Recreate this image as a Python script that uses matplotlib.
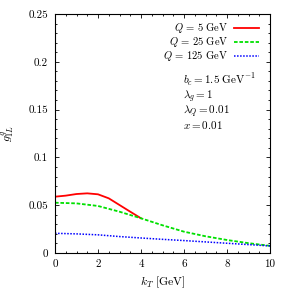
import matplotlib

matplotlib.use('Agg')

import matplotlib.pyplot as plt
import matplotlib.ticker as ticker

plt.rcParams['mathtext.fontset'] = 'cm'
plt.rcParams['font.family'] = 'serif'
plt.rcParams['font.serif'] = ['cmr10', 'DejaVu Serif']
plt.rcParams['axes.formatter.use_mathtext'] = True

# values
kt_q5 = [0, 0.5, 1, 1.5, 2, 2.5, 3, 3.5, 4]
g_q5 = [0.0589, 0.0600, 0.0617, 0.0624, 0.0614, 0.0572, 0.0502, 0.0432, 0.0363]

kt_full = [0, 1, 2, 3, 4, 5, 6, 7, 8, 9, 10]
g_q25 = [0.0526, 0.0519, 0.0492, 0.0432, 0.0363, 0.0290, 0.0223, 0.0175, 0.0136, 0.0103, 0.0075]
g_q125 = [0.0206, 0.0200, 0.0190, 0.0172, 0.0157, 0.0143, 0.0130, 0.0116, 0.0102, 0.0088, 0.0074]

series_labels = [r'$Q\, =\, 5\ \mathrm{GeV}$', r'$Q\, =\, 25\ \mathrm{GeV}$',
                 r'$Q\, =\, 125\ \mathrm{GeV}$']
params_text = [r'$b_c = 1.5\ \mathrm{GeV}^{-1}$', r'$\lambda_g = 1$',
               r'$\lambda_Q = 0.01$', r'$x = 0.01$']

fs = 8
fig = plt.figure(figsize=(2.91, 2.91), dpi=100)
ax = fig.add_axes([55 / 291, 1 - 253 / 291, 215 / 291, 239 / 291])

l1, = ax.plot(kt_q5, g_q5, color='#ff0000', lw=1.3, ls='-')
l2, = ax.plot(kt_full, g_q25, color='#00e000', lw=1.3, ls=(0, (2, 1)))
l3, = ax.plot(kt_full, g_q125, color='#0000ff', lw=1.1, ls=(0, (1, 1)))

ax.set_xlim(0, 10)
ax.set_ylim(0, 0.25)
ax.xaxis.set_major_locator(ticker.MultipleLocator(2))
ax.xaxis.set_minor_locator(ticker.MultipleLocator(0.5))
ax.yaxis.set_major_locator(ticker.MultipleLocator(0.05))
ax.yaxis.set_minor_locator(ticker.MultipleLocator(0.01))
ax.xaxis.set_major_formatter(ticker.FuncFormatter(lambda v, p: f'{v:g}'))
ax.yaxis.set_major_formatter(ticker.FuncFormatter(lambda v, p: f'{v:g}'))
ax.tick_params(which='both', direction='in', top=True, right=True, labelsize=fs, pad=5)
ax.tick_params(which='major', length=3, width=0.6)
ax.tick_params(which='minor', length=1.5, width=0.6)
for s in ax.spines.values():
    s.set_linewidth(0.8)

ax.set_xlabel(r'$k_T\ [\mathrm{GeV}]$', fontsize=fs + 0.5, labelpad=3.5)
ax.set_ylabel(r'$g^g_{1L}$', fontsize=fs + 0.5, labelpad=9)

leg = ax.legend([l1, l2, l3], series_labels, loc='upper right', bbox_to_anchor=(0.985, 1.0),
                frameon=False, fontsize=7.6, markerfirst=False, handlelength=2.4,
                handletextpad=0.55, labelspacing=0.0, borderaxespad=0.3)
for t in leg.get_texts():
    t.set_ha('right')

y0 = 0.177
for i, s in enumerate(params_text):
    ax.text(5.95, y0 - i * 0.0157, s, fontsize=fs, ha='left', va='baseline')

fig.savefig('out.png', dpi=100)
